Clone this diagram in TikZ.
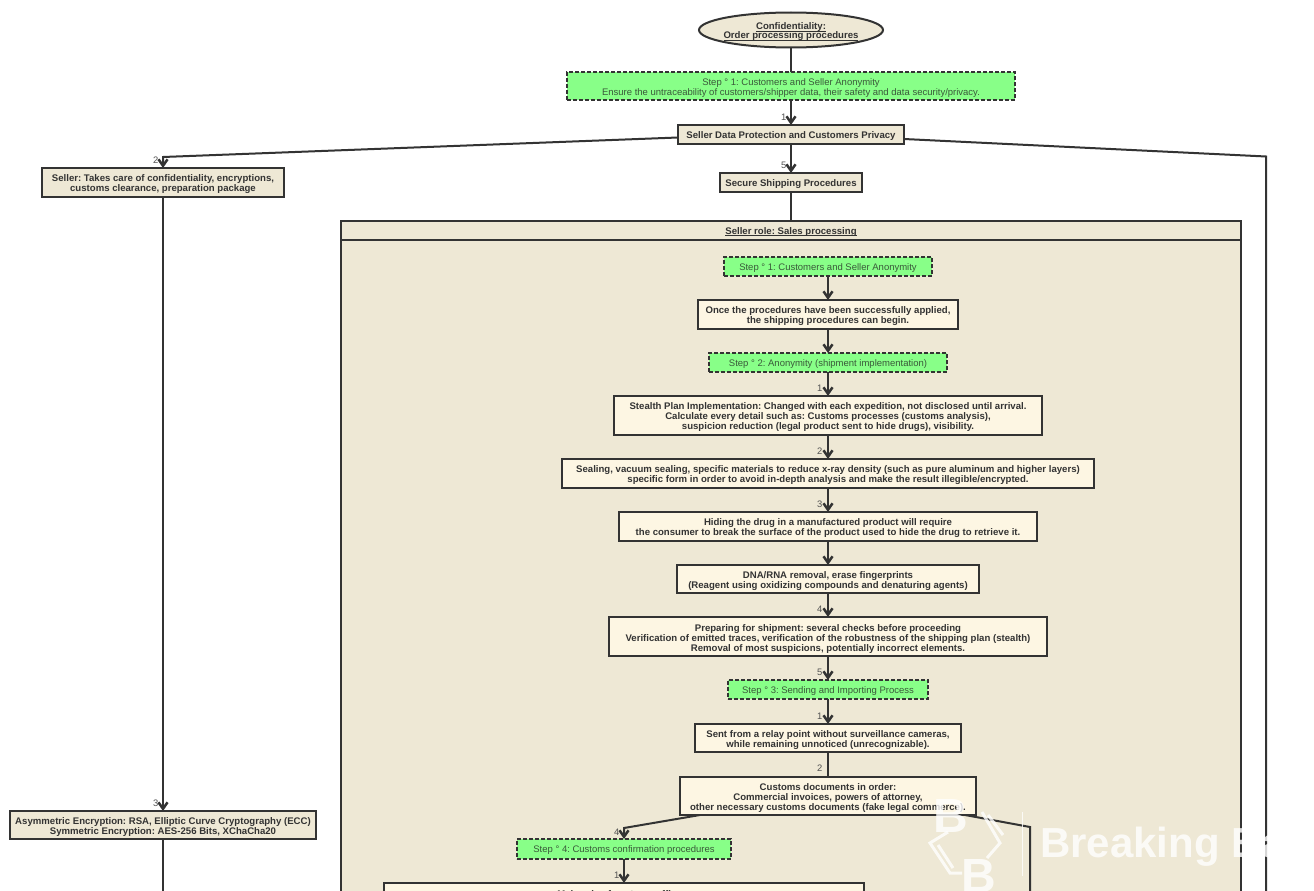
\documentclass[tikz,border=0pt]{standalone}
\usepackage{fontspec}
\setmainfont{Liberation Sans}
\frenchspacing
\usetikzlibrary{shapes.geometric,arrows.meta}
\definecolor{beige}{HTML}{EEE8D5}
\definecolor{cream}{HTML}{FDF6E3}
\definecolor{ink}{HTML}{333333}
\definecolor{stepgreen}{HTML}{88FF88}
\definecolor{steptext}{HTML}{3A5A3A}
\newcommand{\topstrut}{\rule{0pt}{9.5pt}}
\newcommand{\twostrut}{\rule{0pt}{21pt}}
\newcommand{\threestrut}{\rule{0pt}{31pt}}
\newcommand{\botstrut}{\rule[-1.5pt]{0pt}{1.5pt}}
\newsavebox{\ulbox}
\newcommand{\ult}[1]{\sbox{\ulbox}{#1}\rlap{\smash{\rule[-2pt]{\wd\ulbox}{1pt}}}\usebox{\ulbox}}
\tikzset{
 x=1pt,y=-1pt,
 base/.style={draw=ink,line width=2pt,inner sep=0pt,outer sep=0pt,align=center,text=ink,font=\fontsize{9.6}{10}\selectfont\bfseries,execute at begin node=\topstrut,execute at end node=\botstrut},
 ml/.style={execute at begin node=\twostrut},
 mlthree/.style={execute at begin node=\threestrut},
 outerbox/.style={base,rectangle,fill=beige},
 innerbox/.style={base,rectangle,fill=cream},
 stepbox/.style={base,rectangle,fill=stepgreen,dash pattern=on 4pt off 2pt,text=steptext,font=\fontsize{9.5}{10}\selectfont},
 startnode/.style={draw=ink,line width=2pt,ellipse,fill=beige,inner sep=0pt,outer sep=0pt},
 starttext/.style={inner sep=0pt,align=center,text=ink,font=\fontsize{9.6}{9}\selectfont\bfseries},
 panel/.style={draw=ink,line width=2pt,fill=beige,rectangle,inner sep=0pt,outer sep=0pt},
 paneltext/.style={panel,text=ink,font=\fontsize{9.6}{10}\selectfont\bfseries,execute at begin node=\topstrut,execute at end node=\botstrut},
 link/.style={draw=ink,line width=2pt},
 arrow/.style={link,-{Straight Barb[length=6.5pt,width=9pt,line width=2.5pt]}},
 num/.style={text=ink!85,font=\fontsize{9.4}{10}\selectfont,inner sep=0pt,anchor=east},
 wmark/.style={white,text opacity=.8,inner sep=0pt},
 wline/.style={draw=white,opacity=.8,line width=3pt},
}
\begin{document}
\begin{tikzpicture}
\path[use as bounding box] (0,0) rectangle (1314,891);
\clip (0,0) rectangle (1314,891);
\fill[white] (0,0) rectangle (1314,891);
% container
\node[panel,minimum width=900pt,minimum height=800pt] (panel) at (791,621) {};
\node[paneltext,minimum width=900pt,minimum height=19pt] (panelhead) at (791,230.5) {\ult{Seller role: Sales processing}};
% top
\node[startnode,minimum width=184pt,minimum height=35pt] (start) at (791,30) {};
\node[starttext,yshift=-2pt] (starttitle) at (start.center) {\ult{Confidentiality:}\\\ult{Order processing procedures}};
\node[stepbox,ml,minimum width=448pt,minimum height=28pt] (s0) at (791,86) {Step ° 1: Customers and Seller Anonymity\\Ensure the untraceability of customers/shipper data, their safety and data security/privacy.};
\node[outerbox,minimum width=226pt,minimum height=19pt] (data) at (791,134.5) {Seller Data Protection and Customers Privacy};
\node[outerbox,minimum width=142pt,minimum height=19pt] (secure) at (791,182.5) {Secure Shipping Procedures};
\node[outerbox,ml,minimum width=242pt,minimum height=29pt] (seller) at (163,182.5) {Seller: Takes care of confidentiality, encryptions,\\customs clearance, preparation package};
\node[outerbox,ml,minimum width=306pt,minimum height=28pt] (asym) at (163,825) {Asymmetric Encryption: RSA, Elliptic Curve Cryptography (ECC)\\Symmetric Encryption: AES-256 Bits, XChaCha20};
% inner
\node[stepbox,minimum width=208pt,minimum height=19pt] (s1) at (828,266.5) {Step ° 1: Customers and Seller Anonymity};
\node[innerbox,ml,minimum width=260pt,minimum height=29pt] (once) at (828,314.5) {Once the procedures have been successfully applied,\\the shipping procedures can begin.};
\node[stepbox,minimum width=238pt,minimum height=19pt] (s2) at (828,362.5) {Step ° 2: Anonymity (shipment implementation)};
\node[innerbox,mlthree,minimum width=428pt,minimum height=39pt] (stealth) at (828,415.5) {Stealth Plan Implementation: Changed with each expedition, not disclosed until arrival.\\Calculate every detail such as: Customs processes (customs analysis),\\suspicion reduction (legal product sent to hide drugs), visibility.};
\node[innerbox,ml,minimum width=532pt,minimum height=29pt] (seal) at (828,473.5) {Sealing, vacuum sealing, specific materials to reduce x-ray density (such as pure aluminum and higher layers)\\specific form in order to avoid in-depth analysis and make the result illegible/encrypted.};
\node[innerbox,ml,minimum width=418pt,minimum height=29pt] (hide) at (828,526.5) {Hiding the drug in a manufactured product will require\\the consumer to break the surface of the product used to hide the drug to retrieve it.};
\node[innerbox,ml,minimum width=302pt,minimum height=28pt] (dna) at (828,579) {DNA/RNA removal, erase fingerprints\\(Reagent using oxidizing compounds and denaturing agents)};
\node[innerbox,mlthree,minimum width=438pt,minimum height=39pt] (prep) at (828,636.5) {Preparing for shipment: several checks before proceeding\\Verification of emitted traces, verification of the robustness of the shipping plan (stealth)\\Removal of most suspicions, potentially incorrect elements.};
\node[stepbox,minimum width=200pt,minimum height=19pt] (s3) at (828,689.5) {Step ° 3: Sending and Importing Process};
\node[innerbox,ml,minimum width=266pt,minimum height=28pt] (sent) at (828,738) {Sent from a relay point without surveillance cameras,\\while remaining unnoticed (unrecognizable).};
\node[innerbox,mlthree,minimum width=296pt,minimum height=38pt] (customs) at (828,796) {Customs documents in order:\\Commercial invoices, powers of attorney,\\other necessary customs documents (fake legal commerce).};
\node[stepbox,minimum width=214pt,minimum height=20pt] (s4) at (624,849) {Step ° 4: Customs confirmation procedures};
\node[innerbox,minimum width=480pt,minimum height=40pt] (role) at (624,903) {Main role of customs officers\\[6pt]\mbox{}};
% helpers
\coordinate (bendL) at (163,157);
\coordinate (bendR) at (1266,156.5);
\coordinate (endR) at (1266,900);
\coordinate (endA) at (163,900);
\coordinate (bendC4) at (624,828);
\coordinate (bendCR) at (1030,827);
\coordinate (endCR) at (1030,900);
% connectors
\draw[link] (start.south) -- (s0.north);
\draw[arrow] (s0.south) -- (data.north);
\draw[arrow] (data.south) -- (secure.north);
\draw[link] (secure.south) -- (secure.south |- panelhead.north);
\draw[arrow] ([yshift=-3pt]data.west) -- (bendL) -- (seller.north);
\draw[link] ([yshift=-4.5pt]data.east) -- (bendR) -- (endR);
\draw[arrow] (seller.south) -- (asym.north);
\draw[link] (asym.south) -- (endA);
\draw[arrow] (s1.south) -- (once.north);
\draw[arrow] (once.south) -- (s2.north);
\draw[arrow] (s2.south) -- (stealth.north);
\draw[arrow] (stealth.south) -- (seal.north);
\draw[arrow] (seal.south) -- (hide.north);
\draw[arrow] (hide.south) -- (dna.north);
\draw[arrow] (dna.south) -- (prep.north);
\draw[arrow] (prep.south) -- (s3.north);
\draw[arrow] (s3.south) -- (sent.north);
\draw[link] (sent.south) -- (customs.north);
\draw[arrow] ([xshift=-128pt]customs.south) -- (bendC4) -- (s4.north);
\draw[link] ([xshift=137pt]customs.south) -- (bendCR) -- (endCR);
\draw[arrow] (s4.south) -- (role.north);
% numbers
\node[num] at (786.5,117.5) {1};
\node[num] at (786.5,165.5) {5};
\node[num] at (158.5,160) {2};
\node[num] at (158.5,803.5) {3};
\node[num] at (822.5,388) {1};
\node[num] at (822.5,451.5) {2};
\node[num] at (822.5,504) {3};
\node[num] at (822.5,609) {4};
\node[num] at (822.5,672) {5};
\node[num] at (822.5,716) {1};
\node[num] at (822.5,768) {2};
\node[num] at (619.5,832) {4};
\node[num] at (619.5,875) {1};
% watermark
\node[wmark,anchor=base west,font=\fontsize{42}{42}\selectfont\bfseries] (wmtext) at (1040,857) {Breaking Bad};
\node[wmark,anchor=base,font=\fontsize{48}{48}\selectfont\bfseries] (wmb1) at (951,832) {B};
\node[wmark,anchor=base,font=\fontsize{48}{48}\selectfont\bfseries] (wmb2) at (979,892) {B};
\draw[wline] (948,832) -- (930,843) -- (950,873) -- (962,873);
\draw[wline] (938,845) -- (953,868);
\draw[wline] (982,812) -- (1000,843) -- (987,858);
\draw[wline] (988,815) -- (1003,835);
\draw[wline,line width=1.5pt] (1022.7,812) -- (1022.7,876);
\end{tikzpicture}
\end{document}
